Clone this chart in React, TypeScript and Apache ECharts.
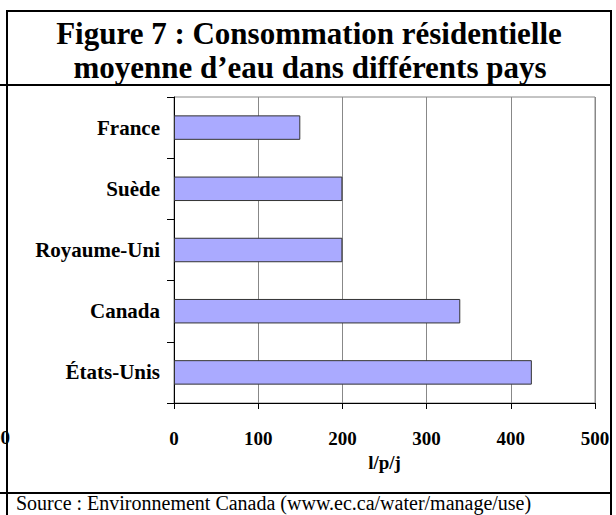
import React, { useEffect, useRef } from "react";
import * as echarts from "echarts";

const categories = ["France", "Suède", "Royaume-Uni", "Canada", "États-Unis"];
const values = [150, 200, 200, 340, 425];
const titleLines = ["Figure 7 : Consommation résidentielle", "moyenne d’eau dans différents pays"];
const axisName = "l/p/j";
const sourceText = "Source : Environnement Canada (www.ec.ca/water/manage/use)";

const SERIF = "Liberation Serif";

export default function App() {
  const ref = useRef<HTMLDivElement>(null);
  useEffect(() => {
    if (!ref.current) return;
    const chart = echarts.init(ref.current, null, { renderer: "svg" });
    const black = "#000";
    const txt = (x: number, y: number, text: string, size: number, weight: string, align: string, z = 10) => ({
      type: "text",
      z,
      x,
      y,
      style: {
        text,
        align,
        verticalAlign: "middle",
        fontFamily: SERIF,
        fontSize: size,
        fontWeight: weight,
        fill: black,
      },
    });
    chart.setOption({
      animation: false,
      backgroundColor: "#fff",
      textStyle: { fontFamily: SERIF },
      grid: {
        left: 174,
        right: 21,
        top: 97,
        bottom: 112,
        show: true,
        borderColor: "#888",
        borderWidth: 1,
      },
      xAxis: {
        type: "value",
        min: 0,
        max: 500,
        interval: 100,
        name: axisName,
        nameLocation: "middle",
        nameGap: 43,
        nameTextStyle: { fontFamily: SERIF, fontWeight: "bold", fontSize: 19, color: black },
        axisLine: { show: true, lineStyle: { color: black, width: 1 } },
        axisTick: { show: true, length: 6, lineStyle: { color: black } },
        axisLabel: { fontFamily: SERIF, fontWeight: "bold", fontSize: 19, color: black, margin: 26 },
        splitLine: { show: true, lineStyle: { color: "#888", width: 1 } },
      },
      yAxis: {
        type: "category",
        data: categories,
        inverse: true,
        axisLine: { show: true, lineStyle: { color: black, width: 1 } },
        axisTick: { show: true, length: 7, lineStyle: { color: black } },
        axisLabel: { fontFamily: SERIF, fontWeight: "bold", fontSize: 21, color: black, margin: 14 },
        splitLine: { show: false },
      },
      series: [
        {
          type: "bar",
          data: values,
          barWidth: "40%",
          itemStyle: { color: "#AAAAFF", borderColor: "#333", borderWidth: 1 },
        },
      ],
      graphic: [
        txt(10, 437, "500", 19, "bold", "right", 1),
        txt(309, 33, titleLines[0], 31, "bold", "center"),
        txt(310, 67, titleLines[1], 31, "bold", "center"),
        txt(16, 503, sourceText, 20, "normal", "left"),
        { type: "line", z: 20, shape: { x1: 7, y1: 10, x2: 7, y2: 515 }, style: { stroke: black, lineWidth: 2 } },
        { type: "line", z: 20, shape: { x1: 611, y1: 10, x2: 611, y2: 515 }, style: { stroke: black, lineWidth: 2 } },
        { type: "line", z: 20, shape: { x1: 6, y1: 11, x2: 612, y2: 11 }, style: { stroke: black, lineWidth: 2 } },
        { type: "line", z: 20, shape: { x1: 0, y1: 85, x2: 612, y2: 85 }, style: { stroke: black, lineWidth: 2 } },
        { type: "line", z: 20, shape: { x1: 0, y1: 493, x2: 612, y2: 493 }, style: { stroke: black, lineWidth: 2 } },
      ],
    });
    return () => chart.dispose();
  }, []);
  return (
    <div
      ref={ref}
      style={{ position: "fixed", left: 0, top: 0, width: 616, height: 515 }}
    />
  );
}
